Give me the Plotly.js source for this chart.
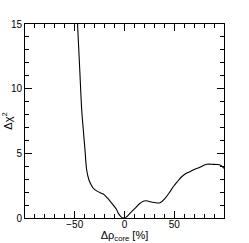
<!DOCTYPE html>
<html><head><meta charset="utf-8">
<script src="https://cdn.plot.ly/plotly-3.0.1.min.js"></script>
<style>html,body{margin:0;padding:0;background:#fff}#c{width:249px;height:243px}</style>
</head><body><div id="c"></div>
<script>
const drho = [-49.5, -47.2, -45, -43, -41.4, -39.7, -38, -35.7, -33, -31.4, -28, -24.6, -21.3, -17.9, -15.3, -11.3, -8, -6.2, -2.8, 0, 2.2, 6, 10.5, 15, 18.9, 22, 25.6, 30, 35.7, 40.7, 45, 49, 53, 57.5, 61, 65.8, 70, 75.9, 82.6, 89.2, 93, 96, 100];
const dchi2 = [18.6, 15, 11.5, 8.35, 6.8, 5.26, 3.71, 2.94, 2.5, 2.3, 2.1, 1.96, 1.85, 1.6, 1.39, 1.0, 0.65, 0.36, 0.05, 0, 0.1, 0.4, 0.75, 1.1, 1.3, 1.33, 1.26, 1.2, 1.18, 1.52, 1.95, 2.42, 2.8, 3.19, 3.4, 3.58, 3.75, 3.92, 4.15, 4.15, 4.14, 4.1, 3.84];
const xTicks = [-50, 0, 50];
const yTicks = [0, 5, 10, 15];

const FONT = 'Liberation Sans, Arial, sans-serif';
const axisCommon = {
  showline: true, linecolor: '#000', linewidth: 1, mirror: 'allticks',
  ticks: 'inside', ticklen: 7, tickwidth: 1, tickcolor: '#000',
  showgrid: false, zeroline: false,
  tickfont: {family: FONT, size: 10, color: '#000'},
  tickmode: 'array'
};
const layout = {
  width: 249, height: 243,
  margin: {l: 25, r: 25, t: 24, b: 25},
  paper_bgcolor: '#fff', plot_bgcolor: '#fff',
  showlegend: false,
  xaxis: Object.assign({}, axisCommon, {
    range: [-100, 100], tickvals: xTicks, ticktext: xTicks.map(v => v < 0 ? '\u2212' + Math.abs(v) : String(v)),
    ticklabelstandoff: -3,
    minor: {dtick: 10, tick0: 0, ticks: 'inside', ticklen: 4, tickcolor: '#000', showgrid: false},
    title: {text: '\u0394\u03c1<sub>core</sub> [%]', font: {family: FONT, size: 11, color: '#000'}, standoff: 0}
  }),
  yaxis: Object.assign({}, axisCommon, {
    range: [0, 15], tickvals: yTicks, ticktext: yTicks.map(String),
    minor: {dtick: 1, tick0: 0, ticks: 'inside', ticklen: 4, tickcolor: '#000', showgrid: false},
    title: {text: '\u0394\u03c7<sup>2</sup>', font: {family: FONT, size: 11, color: '#000'}, standoff: 2}
  })
};
Plotly.newPlot('c', [{
  x: drho, y: dchi2, type: 'scatter', mode: 'lines',
  line: {color: '#000', width: 1.1, shape: 'spline', smoothing: 1},
  cliponaxis: true
}], layout, {staticPlot: true, displayModeBar: false});
</script></body></html>
